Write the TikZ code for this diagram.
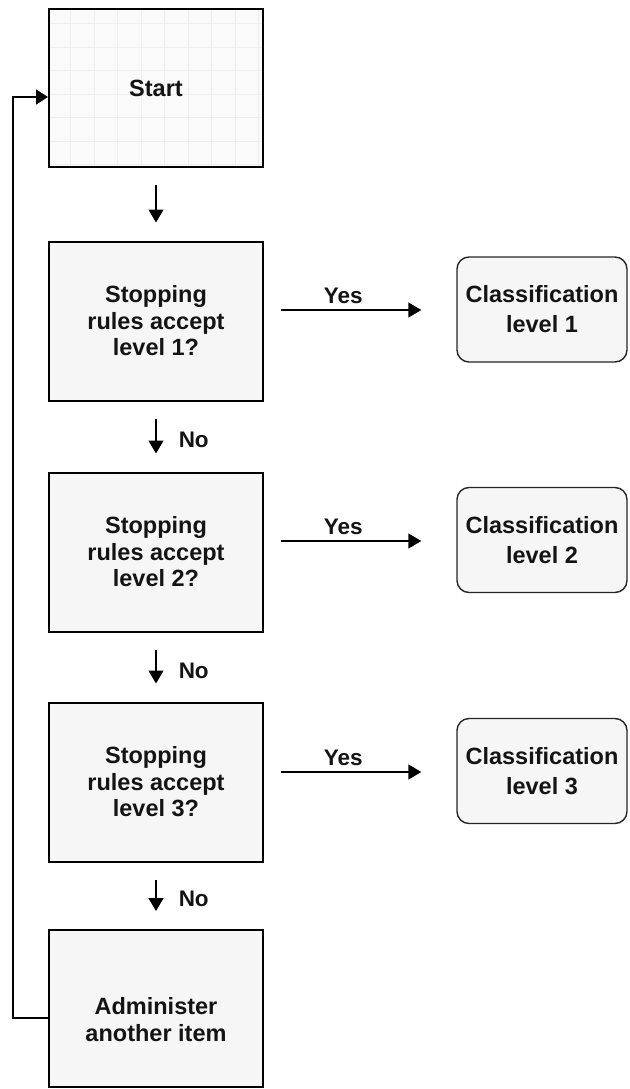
\documentclass[tikz,border=0pt]{standalone}
\usepackage{fontspec}
\setmainfont{Liberation Sans}
\usetikzlibrary{arrows.meta}
\definecolor{boxfill}{HTML}{F6F6F6}
\definecolor{startfill}{HTML}{FAFAFA}
\definecolor{gridc}{HTML}{EEEEEE}
\definecolor{txt}{HTML}{141414}
\tikzset{
  flowbox/.style={draw=black, line width=2pt, fill=boxfill, minimum width=214pt, minimum height=159pt, align=center, font=\fontsize{23.5}{26.5}\selectfont\bfseries, text=txt, inner sep=0pt},
  classbox/.style={draw=black!85, line width=1.4pt, fill=boxfill, rounded corners=12pt, minimum width=170pt, minimum height=105pt, align=center, font=\fontsize{23.5}{30}\selectfont\bfseries, text=txt, inner sep=0pt},
  arr/.style={line width=1.5pt, black, -{Triangle[length=13pt,width=15pt]}},
  downarr/.style={arr, shorten <=17pt, shorten >=18pt},
  yesarr/.style={arr, shorten <=17pt, shorten >=35pt},
  lbl/.style={font=\fontsize{22.5}{26}\selectfont\bfseries, text=txt, inner sep=0pt},
}
\begin{document}
\begin{tikzpicture}[x=1pt, y=-1pt]
\useasboundingbox (0,0) rectangle (629,1089);
% boxes
\node[flowbox, fill=startfill, minimum height=158pt] (start) at (156,88) {};
\begin{scope}
  \clip (50,10) rectangle (262,166);
  \draw[gridc, line width=0.6pt] (49,7) grid[step=23.5pt] (263,167);
\end{scope}
\node[flowbox, fill=none] (startb) at (156,88) [minimum height=158pt] {Start};
\node[flowbox] (q1) at (156,321) {Stopping\\rules accept\\level 1?};
\node[flowbox] (q2) at (156,552) {Stopping\\rules accept\\level 2?};
\node[flowbox] (q3) at (156,782) {Stopping\\rules accept\\level 3?};
\node[flowbox, minimum height=157pt] (admin) at (156,1008.5) {};
\node[lbl, font=\fontsize{23.5}{27}\selectfont\bfseries, align=center] (admintext) at (156,1020) {Administer\\another item};
\node[classbox] (c1) at (542,309.5) {Classification\\level 1};
\node[classbox] (c2) at (542,540) {Classification\\level 2};
\node[classbox] (c3) at (542,771) {Classification\\level 3};
% down arrows
\draw[downarr] (startb.south) -- (q1.north);
\draw[downarr] (q1.south) -- node[lbl, anchor=west, pos=0.55, xshift=22pt] (no1) {No} (q2.north);
\draw[downarr] (q2.south) -- node[lbl, anchor=west, pos=0.55, xshift=22pt] (no2) {No} (q3.north);
\draw[downarr] (q3.south) -- node[lbl, anchor=west, pos=0.55, xshift=22pt] (no3) {No} (admin.north);
% yes arrows
\coordinate (y1) at (0,310);
\coordinate (y2) at (0,541);
\coordinate (y3) at (0,772);
\draw[yesarr] (q1.east |- y1) -- node[lbl, above=6pt, xshift=-17pt] (yes1) {Yes} (c1.west |- y1);
\draw[yesarr] (q2.east |- y2) -- node[lbl, above=6pt, xshift=-17pt] (yes2) {Yes} (c2.west |- y2);
\draw[yesarr] (q3.east |- y3) -- node[lbl, above=6pt, xshift=-17pt] (yes3) {Yes} (c3.west |- y3);
% loop back
\coordinate (lb) at (13,1018);
\coordinate (lt) at (13,97);
\draw[line width=1.5pt, black, -{Triangle[length=12pt,width=15pt]}] (admin.west |- lb) -- (lb) -- (lt) -- (startb.west |- lt);
\end{tikzpicture}
\end{document}
